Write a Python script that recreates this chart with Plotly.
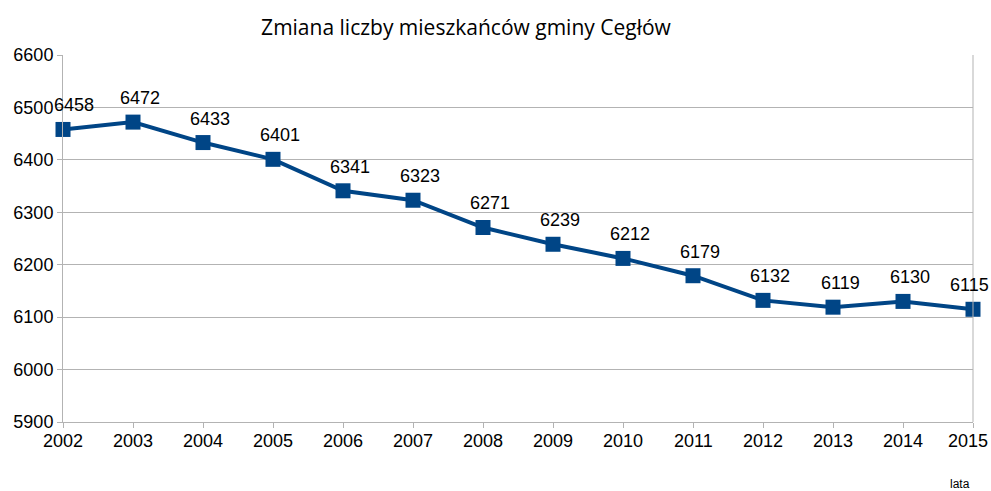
import plotly.graph_objects as go

years = [2002, 2003, 2004, 2005, 2006, 2007, 2008, 2009, 2010, 2011, 2012, 2013, 2014, 2015]
population = [6458, 6472, 6433, 6401, 6341, 6323, 6271, 6239, 6212, 6179, 6132, 6119, 6130, 6115]
y_ticks = [5900, 6000, 6100, 6200, 6300, 6400, 6500, 6600]

FW, FH = 991, 491
FONT = "Liberation Sans, Arial"

fig = go.Figure()
fig.add_trace(go.Scatter(
    x=years, y=population,
    mode="lines+markers",
    line=dict(color="#004586", width=4),
    marker=dict(symbol="square", size=15, color="#004586"),
    cliponaxis=False,
    showlegend=False,
    hoverinfo="skip",
))

# data labels (slightly right of each point, as in the original; edge ones kept inside)
label_shift = [11] + [7] * (len(years) - 2) + [-4]
annotations = [
    dict(x=yr, y=val, text=str(val), showarrow=False, xanchor="center", yanchor="middle",
         xshift=sh, yshift=24, font=dict(family=FONT, size=18, color="#000000"))
    for yr, val, sh in zip(years, population, label_shift)
]
# category labels on the x axis (last one kept inside the picture)
tick_shift = [0] * (len(years) - 1) + [-5]
annotations += [
    dict(x=yr, y=0, yref="paper", text=str(yr), showarrow=False, xanchor="center",
         yanchor="middle", xshift=sh, yshift=-19, font=dict(family=FONT, size=18, color="#000000"))
    for yr, sh in zip(years, tick_shift)
]
annotations.append(dict(text="lata", xref="paper", yref="paper", x=(960 - 63) / 910,
                        y=-(484 - 422) / 367, xanchor="center", yanchor="middle",
                        showarrow=False, font=dict(family=FONT, size=12, color="#000000")))

fig.update_layout(
    width=FW, height=FH,
    margin=dict(l=63, r=18, t=55, b=69),
    paper_bgcolor="white", plot_bgcolor="white",
    title=dict(text="Zmiana liczby mieszkańców gminy Cegłów", x=466 / FW, xanchor="center",
               y=1 - 28 / FH, yanchor="middle",
               font=dict(family="Open Sans, Lato", size=21, color="#000000")),
    font=dict(family=FONT, size=18, color="#000000"),
    xaxis=dict(range=[2002, 2015], tickvals=years, showticklabels=False,
               showgrid=False, showline=True, linecolor="#b3b3b3", linewidth=1,
               ticks="outside", ticklen=5, tickcolor="#b3b3b3", zeroline=False),
    yaxis=dict(range=[5900, 6600], tickvals=y_ticks, showgrid=True, gridcolor="#b3b3b3",
               gridwidth=1, showline=True, linecolor="#b3b3b3", linewidth=1,
               ticks="outside", ticklen=5, tickcolor="#b3b3b3", zeroline=False,
               tickfont=dict(size=18)),
    annotations=annotations,
)
fig.add_shape(type="line", xref="paper", yref="paper", x0=1, x1=1, y0=0, y1=1,
              line=dict(color="#b3b3b3", width=1))

fig.write_html("out.html", config={"displayModeBar": False},
               post_script="document.body.style.margin='0';document.body.style.overflow='hidden';")
